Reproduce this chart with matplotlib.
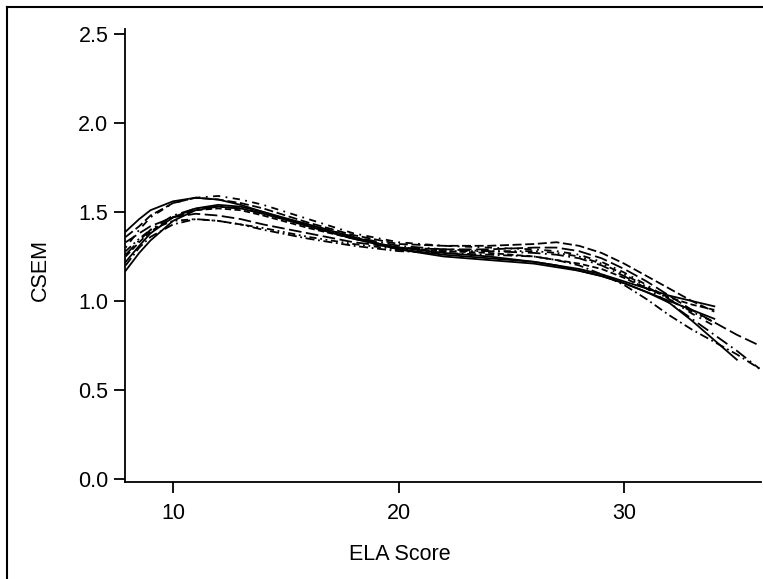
import numpy as np
import matplotlib
matplotlib.use("Agg")
from matplotlib import pyplot as plt
from matplotlib.lines import Line2D

nan = np.nan

# ELA raw score grid
score = [7.9, 8.5, 9, 10, 11, 12, 13, 14, 16, 18, 20, 22, 24, 26, 27, 28, 29, 30, 31, 32, 33, 34, 35, 36]

# CSEM curves, one list per test form
csem_s1 = [1.39, 1.46, 1.51, 1.56, 1.58, 1.57, 1.54, 1.50, 1.42, 1.35, 1.30, 1.27, 1.25, 1.22, 1.20, 1.18, 1.15, 1.11, 1.07, 1.03, 1.00, 0.97, nan, nan]
csem_s2 = [1.17, 1.27, 1.34, 1.45, 1.51, 1.53, 1.52, 1.49, 1.42, 1.35, 1.29, 1.26, 1.24, 1.22, 1.20, 1.17, 1.14, 1.10, 1.05, 0.99, 0.89, 0.78, 0.67, nan]
csem_s3 = [1.22, 1.31, 1.38, 1.47, 1.52, 1.54, 1.53, 1.50, 1.43, 1.36, 1.29, 1.25, 1.23, 1.21, 1.19, 1.17, 1.14, 1.10, 1.05, 1.00, 0.95, 0.90, nan, nan]
csem_d1 = [1.36, 1.42, 1.48, 1.55, 1.58, 1.57, 1.55, 1.52, 1.44, 1.37, 1.32, 1.31, 1.31, 1.32, 1.33, 1.31, 1.27, 1.21, 1.14, 1.07, 1.00, 0.94, nan, nan]
csem_d2 = [1.33, 1.38, 1.42, 1.47, 1.49, 1.48, 1.46, 1.43, 1.38, 1.33, 1.30, 1.29, 1.29, 1.30, 1.30, 1.28, 1.24, 1.18, 1.11, 1.03, 0.95, 0.88, 0.81, 0.75]
csem_d3 = [1.25, 1.33, 1.39, 1.47, 1.51, 1.52, 1.51, 1.48, 1.41, 1.35, 1.30, 1.28, 1.27, 1.25, 1.23, 1.21, 1.18, 1.13, 1.07, 1.02, 0.98, 0.95, nan, nan]
csem_dd1 = [1.20, 1.30, 1.36, 1.43, 1.46, 1.45, 1.43, 1.40, 1.35, 1.31, 1.28, 1.27, 1.26, 1.25, 1.23, 1.20, 1.15, 1.09, 1.01, 0.92, 0.84, 0.77, 0.70, 0.62]
csem_dd2 = [1.26, 1.34, 1.40, 1.48, 1.52, 1.53, 1.52, 1.49, 1.43, 1.36, 1.31, 1.29, 1.28, 1.27, 1.26, 1.24, 1.20, 1.14, 1.07, 0.99, 0.90, 0.81, 0.72, 0.62]
csem_dot = [1.30, 1.40, 1.47, 1.55, 1.58, 1.59, 1.57, 1.54, 1.46, 1.38, 1.33, 1.31, 1.30, 1.29, 1.28, 1.26, 1.22, 1.16, 1.09, 1.01, 0.93, 0.86, nan, nan]
csem_d4 = [1.28, 1.35, 1.40, 1.45, 1.46, 1.45, 1.43, 1.41, 1.36, 1.32, 1.29, 1.28, 1.28, 1.28, 1.27, 1.25, 1.21, 1.15, 1.08, 1.01, 0.94, 0.88, nan, nan]

plt.rcParams["font.family"] = ["Liberation Sans", "DejaVu Sans"]

fig = plt.figure(figsize=(7.63, 5.79), dpi=100)
ax = fig.add_axes([125 / 763, 97 / 579, 636 / 763, 453 / 579])

lw = 1.3
ax.plot(score, csem_s1, color="black", lw=lw, linestyle="-")
ax.plot(score, csem_s2, color="black", lw=lw, linestyle="-")
ax.plot(score, csem_s3, color="black", lw=lw, linestyle="-")
ax.plot(score, csem_d1, color="black", lw=lw, linestyle=(0, (5, 2)))
ax.plot(score, csem_d2, color="black", lw=lw, linestyle=(0, (7, 2.5)))
ax.plot(score, csem_d3, color="black", lw=lw, linestyle=(0, (3.5, 1.8)))
ax.plot(score, csem_dd1, color="black", lw=lw, linestyle=(0, (5, 2, 1, 2)))
ax.plot(score, csem_dd2, color="black", lw=lw, linestyle=(0, (7, 2.5, 1, 2.5)))
ax.plot(score, csem_dot, color="black", lw=lw, linestyle=(0, (1, 3, 4, 3)))
ax.plot(score, csem_d4, color="black", lw=lw, linestyle=(0, (4, 2, 1, 2, 1, 2)))

ax.set_xlim(7.87, 36.07)
ax.set_ylim(-0.017, 2.528)
ax.set_xticks([10, 20, 30])
ax.set_yticks([0.0, 0.5, 1.0, 1.5, 2.0, 2.5])
ax.set_yticklabels(["0.0", "0.5", "1.0", "1.5", "2.0", "2.5"])
ax.spines["top"].set_visible(False)
ax.spines["right"].set_visible(False)
for s in ["left", "bottom"]:
    ax.spines[s].set_linewidth(1.3)
ax.tick_params(length=8, width=1.3, labelsize=15.5, pad=4)
ax.tick_params(axis="x", pad=7)

fig.text(400 / 763, 1 - 555 / 579, "ELA Score", fontsize=15.5, ha="center", va="center")
fig.text(40 / 763, 1 - 270 / 579, "CSEM", fontsize=15.5, ha="center", va="center", rotation=90)

# frame around the picture: only the left and top edges are visible
fx, fy = 7 / 763, 1 - 7 / 579
fig.lines.append(Line2D([fx, fx], [0, fy], transform=fig.transFigure, color="black", lw=1.5))
fig.lines.append(Line2D([fx, 1], [fy, fy], transform=fig.transFigure, color="black", lw=1.5))

fig.savefig("out.png", dpi=100)
